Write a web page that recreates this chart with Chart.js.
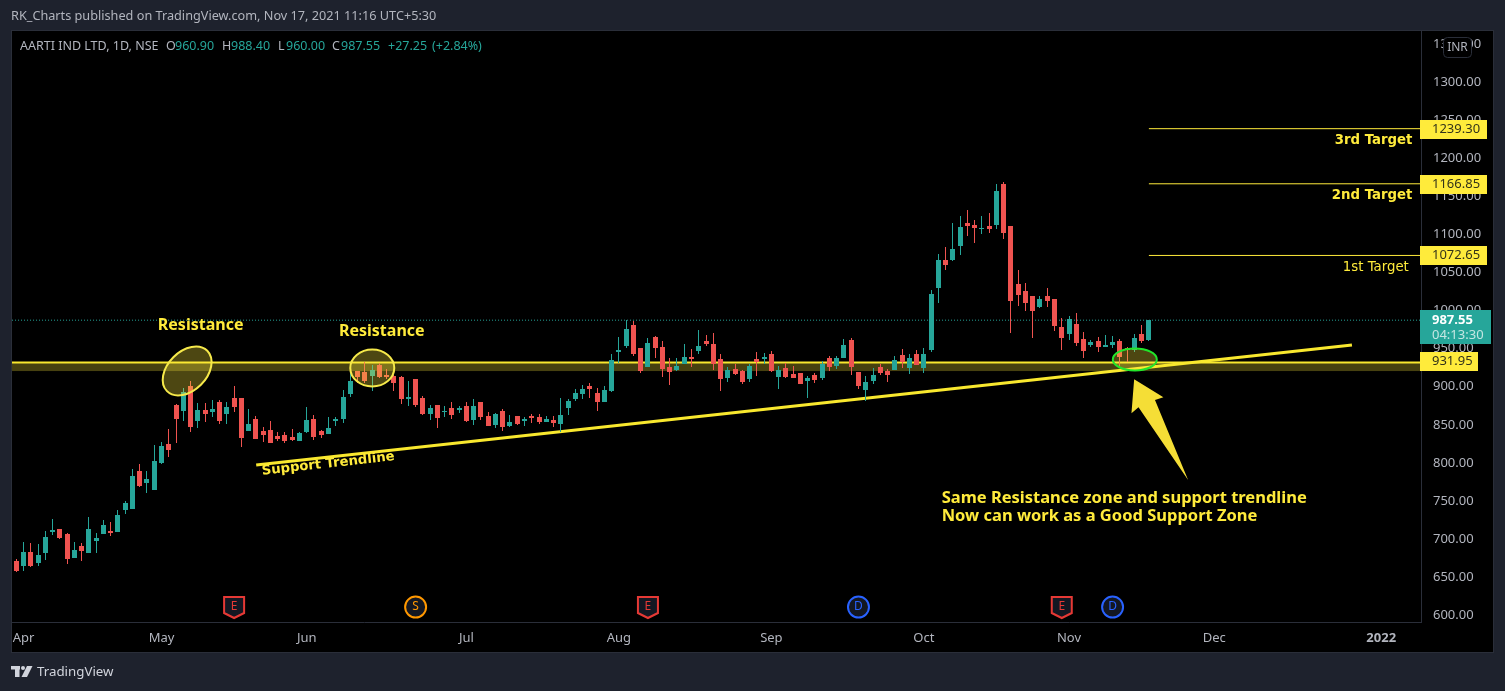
<!DOCTYPE html>
<html>
<head>
<meta charset="utf-8">
<title>AARTI IND LTD, 1D, NSE</title>
<script src="https://cdn.jsdelivr.net/npm/chart.js@4/dist/chart.umd.min.js"></script>
<style>
    html, body { margin: 0; padding: 0; background: #1e222d; overflow: hidden; }
    canvas { display: block; }
</style>
</head>
<body>
<canvas id="chart" width="1505" height="691"></canvas>
<script>
// Daily candles, one entry per session
const opens = [
    671, 664, 683, 668, 682, 709, 713, 707, 675, 691,
    682, 697, 707, 710, 709, 738, 739, 789, 774, 764,
    800, 825, 876, 868, 901, 855, 870, 867, 880, 864,
    885, 885, 842, 858, 842, 843, 835, 837, 834, 829,
    841, 858, 842, 838, 855, 858, 891, 921, 920, 914,
    929, 916, 914, 913, 884, 910, 885, 864, 876, 867,
    872, 870, 875, 856, 880, 862, 850, 868, 849, 862,
    855, 862, 860, 854, 856, 851, 872, 884, 891, 901,
    892, 880, 895, 946, 954, 981, 951, 926, 966, 952,
    926, 922, 930, 939, 947, 960, 956, 937, 912, 923,
    921, 910, 937, 937, 943, 913, 925, 917, 918, 908,
    916, 912, 938, 927, 938, 962, 919, 896, 908, 926,
    921, 922, 942, 925, 943, 925, 948, 1030, 1067, 1067,
    1085, 1115, 1113, 1107, 1111, 1113, 1167, 1111, 1035, 1026,
    1019, 1005, 1019, 1015, 979, 969, 983, 963, 955, 960,
    952, 955, 960, 951, 948, 969, 960.9
];
const highs = [
    674, 696, 695, 693, 710, 726, 713, 708, 696, 695,
    729, 708, 725, 722, 738, 750, 792, 798, 789, 824,
    827, 845, 877, 898, 908, 879, 879, 883, 883, 880,
    901, 885, 871, 862, 847, 855, 841, 841, 845, 841,
    874, 863, 843, 860, 860, 896, 926, 921, 933, 929,
    931, 923, 916, 914, 908, 910, 888, 876, 876, 875,
    880, 875, 880, 884, 880, 867, 866, 871, 863, 862,
    860, 864, 864, 862, 862, 885, 884, 897, 902, 905,
    899, 901, 943, 966, 988, 987, 951, 964, 967, 960,
    938, 938, 956, 950, 975, 968, 971, 943, 926, 930,
    922, 930, 946, 945, 947, 927, 931, 927, 918, 914,
    918, 934, 941, 941, 963, 964, 919, 914, 925, 930,
    923, 941, 950, 943, 948, 951, 1027, 1075, 1084, 1115,
    1125, 1132, 1119, 1125, 1129, 1167, 1169, 1111, 1054, 1036,
    1019, 1019, 1030, 1015, 990, 993, 997, 972, 962, 966,
    968, 967, 963, 952, 969, 981, 988.4
];
const lows = [
    656, 658, 663, 664, 672, 705, 700, 667, 675, 671,
    682, 682, 707, 704, 709, 733, 739, 768, 760, 764,
    798, 808, 826, 855, 841, 846, 854, 860, 851, 851,
    867, 821, 842, 831, 827, 826, 829, 826, 829, 829,
    839, 830, 833, 838, 849, 852, 887, 905, 905, 895,
    912, 910, 895, 877, 875, 874, 863, 856, 846, 860,
    858, 866, 854, 850, 856, 849, 846, 842, 847, 850,
    849, 852, 851, 854, 847, 841, 863, 881, 884, 885,
    868, 880, 893, 931, 951, 941, 918, 926, 938, 913,
    902, 921, 930, 926, 943, 954, 922, 895, 906, 916,
    904, 906, 914, 930, 920, 897, 912, 912, 904, 885,
    905, 909, 921, 923, 938, 916, 897, 881, 904, 916,
    906, 922, 925, 917, 929, 918, 946, 1010, 1054, 1065,
    1073, 1098, 1089, 1101, 1102, 1107, 1094, 971, 1006, 1000,
    964, 1004, 1005, 973, 948, 962, 954, 938, 952, 946,
    952, 951, 925, 933, 946, 958, 960
];
const closes = [
    658, 683, 664, 679, 703, 712, 701, 674, 685, 684,
    713, 701, 718, 708, 731, 747, 783, 770, 779, 802,
    822, 817, 858, 893, 847, 870, 864, 871, 855, 873,
    873, 833, 851, 831, 837, 826, 831, 829, 830, 839,
    856, 834, 837, 846, 858, 887, 908, 913, 908, 922,
    913, 913, 905, 884, 887, 876, 864, 872, 859, 868,
    863, 872, 855, 875, 860, 849, 864, 847, 854, 851,
    858, 859, 854, 858, 852, 863, 881, 892, 897, 897,
    880, 896, 935, 948, 976, 943, 921, 958, 951, 923,
    920, 927, 939, 937, 954, 956, 930, 910, 922, 917,
    906, 927, 933, 939, 921, 922, 913, 912, 904, 912,
    909, 930, 926, 938, 955, 926, 901, 906, 916, 918,
    916, 935, 933, 938, 929, 943, 1022, 1067, 1060, 1081,
    1110, 1111, 1109, 1109, 1107, 1157, 1102, 1013, 1021, 1010,
    1000, 1015, 1013, 980, 964, 989, 958, 947, 959, 952,
    955, 959, 939, 948, 964, 960, 987.55
];

// Axis labels
const priceTicks = [600, 650, 700, 750, 800, 850, 900, 950, 1000, 1050, 1100, 1150, 1200, 1250, 1300, 1350];
const monthLabels = ['Apr', 'May', 'Jun', 'Jul', 'Aug', 'Sep', 'Oct', 'Nov', 'Dec', '2022'];
const monthTicks = [1, 20, 40, 62, 83, 104, 125, 145, 165, 188];

// Drawn levels
const targetLevels = [1239.30, 1166.85, 1072.65];
const supportLevel = 931.95;
const zoneBottom = 920.5;
const lastPrice = 987.55;
const trendX = [33.04, 183.97];
const trendY = [797.2, 955];

// Events under the candles: session index and letter
const eventBars = [30, 55, 87, 116, 144, 151];
const eventKinds = ['E', 'S', 'E', 'D', 'E', 'D'];

const UP = '#26a69a';
const DOWN = '#ef5350';
const YELLOW = '#ffeb3b';
const FONT = '"Noto Sans", sans-serif';
const sessions = closes.map((_, i) => i);
const candleColors = closes.map((c, i) => (c >= opens[i] ? UP : DOWN));

function flatLine(value, from) {
    return [{ x: from, y: value }, { x: 194, y: value }];
}

function lineSet(data, color, width, order, extra) {
    return Object.assign({
        type: 'line', data: data, borderColor: color, borderWidth: width,
        pointRadius: 0, order: order, tension: 0, fill: false
    }, extra || {});
}

// Bars sit on whole pixels so wicks stay 1px sharp
const snapBars = {
    id: 'snapBars',
    afterDatasetsUpdate(chart) {
        chart.getSortedVisibleDatasetMetas().forEach(meta => {
            if (meta.type !== 'bar') return;
            meta.data.forEach(el => {
                el.x = Math.floor(el.x) + 0.5;
                el.y = Math.round(el.y);
                el.base = Math.round(el.base);
                if (el.y === el.base) el.base = el.y + 1;
            });
        });
    }
};

function writeText(ctx, text, x, y, font, color, align) {
    ctx.font = font;
    ctx.fillStyle = color;
    ctx.textAlign = align || 'left';
    ctx.textBaseline = 'middle';
    ctx.fillText(text, x, y);
}

function drawEllipse(ctx, chart, cx, cy, rx, ry, angle, stroke) {
    ctx.beginPath();
    ctx.ellipse(chart.scales.x.getPixelForValue(cx), chart.scales.y.getPixelForValue(cy), rx, ry, angle, 0, Math.PI * 2);
    ctx.fillStyle = 'rgba(255, 235, 59, 0.3)';
    ctx.fill();
    ctx.lineWidth = 2;
    ctx.strokeStyle = stroke;
    ctx.stroke();
}

function drawEvent(ctx, x, y, kind) {
    const color = { E: '#e53935', S: '#ff9800', D: '#2962ff' }[kind];
    ctx.beginPath();
    if (kind === 'E') {
        ctx.moveTo(x - 10, y - 10);
        ctx.lineTo(x + 10, y - 10);
        ctx.lineTo(x + 10, y + 6);
        ctx.lineTo(x, y + 11);
        ctx.lineTo(x - 10, y + 6);
        ctx.closePath();
    } else {
        ctx.arc(x, y, 10.5, 0, Math.PI * 2);
    }
    ctx.fillStyle = '#131722';
    ctx.fill();
    ctx.lineWidth = 2;
    ctx.strokeStyle = color;
    ctx.stroke();
    writeText(ctx, kind, x, y, '12px ' + FONT, color, 'center');
}

function drawLogo(ctx) {
    ctx.fillStyle = '#d1d4dc';
    ctx.fillRect(11, 666, 9, 3.5);
    ctx.fillRect(15, 666, 4.5, 11);
    ctx.beginPath();
    ctx.arc(23, 668, 2, 0, Math.PI * 2);
    ctx.fill();
    ctx.beginPath();
    ctx.moveTo(27, 666);
    ctx.lineTo(32.5, 666);
    ctx.lineTo(27, 677);
    ctx.lineTo(21.5, 677);
    ctx.closePath();
    ctx.fill();
}

const overlay = {
    id: 'overlay',
    beforeDraw(chart) {
        const ctx = chart.ctx;
        ctx.save();
        ctx.fillStyle = '#1e222d';
        ctx.fillRect(0, 0, 1505, 691);
        ctx.fillStyle = '#000000';
        ctx.fillRect(12, 31, 1481, 621);
        ctx.strokeStyle = '#2a2e39';
        ctx.lineWidth = 1;
        ctx.strokeRect(11.5, 30.5, 1482, 622);
        ctx.restore();
    },
    afterDatasetsDraw(chart) {
        const ctx = chart.ctx;
        const xs = chart.scales.x;
        const ys = chart.scales.y;
        ctx.save();

        drawEllipse(ctx, chart, 23.53, 920.8, 28.5, 19.5, -Math.PI / 4, '#f6e94a');
        drawEllipse(ctx, chart, 49.03, 924.7, 22, 18.5, 0, '#f6e94a');
        drawEllipse(ctx, chart, 154.06, 935.9, 22, 11, 0, '#22e52b');

        // Arrow pointing at the support zone
        const arrow = [[153.97, 909.8], [158.0, 886.2], [156.84, 882.6], [161.4, 777.5], [154.57, 873], [153.6, 865.2]];
        ctx.beginPath();
        arrow.forEach((p, i) => {
            const px = xs.getPixelForValue(p[0]);
            const py = ys.getPixelForValue(p[1]);
            if (i === 0) ctx.moveTo(px, py); else ctx.lineTo(px, py);
        });
        ctx.closePath();
        ctx.fillStyle = '#f5de36';
        ctx.fill();

        const noteFont = 'bold 16.5px ' + FONT;
        const notes = [
            ['Resistance', 25.39, 981.3, 'bold 16px ' + FONT, 'center'],
            ['Resistance', 50.34, 973.4, 'bold 16px ' + FONT, 'center'],
            ['Same Resistance zone and support trendline', 127.46, 752.8, noteFont, 'left'],
            ['Now can work as a Good Support Zone', 127.46, 730.1, noteFont, 'left'],
            ['3rd Target', 192.3, 1223.8, 'bold 13.3px "DejaVu Sans"', 'right'],
            ['2nd Target', 192.3, 1151, 'bold 13.3px "DejaVu Sans"', 'right'],
            ['1st Target', 191.8, 1057.3, '13.3px "DejaVu Sans"', 'right']
        ];
        notes.forEach(n => {
            writeText(ctx, n[0], xs.getPixelForValue(n[1]), ys.getPixelForValue(n[2]), n[3], YELLOW, n[4]);
        });

        // Label that follows the trendline
        ctx.save();
        ctx.translate(xs.getPixelForValue(42.96), ys.getPixelForValue(798.5));
        ctx.rotate(-0.11);
        writeText(ctx, 'Support Trendline', 0, 0, 'bold 13.2px "DejaVu Sans"', YELLOW, 'center');
        ctx.restore();

        eventBars.forEach((bar, i) => {
            drawEvent(ctx, xs.getPixelForValue(bar), ys.getPixelForValue(610.5), eventKinds[i]);
        });
        ctx.restore();
    },
    afterDraw(chart) {
        const ctx = chart.ctx;
        const ys = chart.scales.y;
        ctx.save();

        // Page header and symbol legend
        writeText(ctx, 'RK_Charts published on TradingView.com, Nov 17, 2021 11:16 UTC+5:30', 11, 16, '12.7px ' + FONT, '#b2b5be');
        const grey = '#b2b5be';
        [
            ['AARTI IND LTD, 1D, NSE', 20, grey], ['O', 166, grey], ['960.90', 175, UP],
            ['H', 222, grey], ['988.40', 231, UP], ['L', 278, grey], ['960.00', 286, UP],
            ['C', 332, grey], ['987.55', 341, UP], ['+27.25', 388, UP], ['(+2.84%)', 432, UP]
        ].forEach(s => writeText(ctx, s[0], s[1], 46, '12.5px ' + FONT, s[2]));

        // Price tags on the axis
        targetLevels.forEach(level => {
            const y = Math.round(ys.getPixelForValue(level));
            ctx.fillStyle = YELLOW;
            ctx.fillRect(1420, y - 9, 67, 19);
            writeText(ctx, level.toFixed(2), 1432, y + 0.5, '13px ' + FONT, '#33331a');
        });
        const supportY = Math.round(ys.getPixelForValue(supportLevel));
        ctx.fillStyle = YELLOW;
        ctx.fillRect(1420, supportY - 10, 58, 19);
        writeText(ctx, supportLevel.toFixed(2), 1432, supportY - 0.5, '13px ' + FONT, '#33331a');

        const lastY = Math.round(ys.getPixelForValue(lastPrice));
        ctx.fillStyle = UP;
        ctx.fillRect(1420, lastY - 10, 71, 34);
        writeText(ctx, lastPrice.toFixed(2), 1432, lastY, 'bold 13px ' + FONT, '#ffffff');
        writeText(ctx, '04:13:30', 1432, lastY + 15, '13px ' + FONT, '#c4e6e2');

        // Currency badge covers the top tick, same as the reference
        ctx.beginPath();
        ctx.roundRect(1443.5, 37.5, 28, 20, 4);
        ctx.fillStyle = '#000000';
        ctx.fill();
        ctx.strokeStyle = '#2a2e39';
        ctx.lineWidth = 1;
        ctx.stroke();
        writeText(ctx, 'INR', 1457.5, 48, '12px ' + FONT, '#b2b5be', 'center');

        drawLogo(ctx);
        writeText(ctx, 'TradingView', 37, 672, '13.3px ' + FONT, '#d1d4dc');
        ctx.restore();
    }
};

const chart = new Chart(document.getElementById('chart').getContext('2d'), {
    type: 'bar',
    data: {
        datasets: [
            {
                data: sessions.map(i => ({ x: i, y: [opens[i], closes[i]] })),
                backgroundColor: candleColors, barThickness: 5, minBarLength: 1,
                grouped: false, inflateAmount: 0, order: 1
            },
            {
                data: sessions.map(i => ({ x: i, y: [lows[i], highs[i]] })),
                backgroundColor: candleColors, barThickness: 1, minBarLength: 1,
                grouped: false, inflateAmount: 0, order: 2
            },
            lineSet(trendX.map((x, i) => ({ x: x, y: trendY[i] })), '#f9e82e', 3, 3),
            lineSet(flatLine(supportLevel, -1), '#f9e82e', 2, 4, {
                fill: { target: { value: zoneBottom }, above: 'rgba(255, 235, 59, 0.28)' }
            }),
            lineSet(flatLine(targetLevels[0], 156), YELLOW, 1, 5),
            lineSet(flatLine(targetLevels[1], 156), YELLOW, 1, 5),
            lineSet(flatLine(targetLevels[2], 156), YELLOW, 1, 5),
            lineSet(flatLine(lastPrice, -1), UP, 1, 6, { borderDash: [1, 2] })
        ]
    },
    options: {
        responsive: false,
        animation: false,
        events: [],
        layout: { padding: { left: 12, top: 31, right: 11, bottom: 39 } },
        plugins: { legend: { display: false }, tooltip: { enabled: false } },
        scales: {
            x: {
                type: 'linear',
                offset: false,
                min: -0.593,
                max: 193.48,
                grid: { display: false, drawTicks: false },
                border: { display: true, color: '#2a2e39' },
                afterBuildTicks: scale => { scale.ticks = monthTicks.map(v => ({ value: v })); },
                afterFit: scale => { scale.height = 30; },
                ticks: {
                    autoSkip: false,
                    maxRotation: 0,
                    padding: 8,
                    color: '#b2b5be',
                    font: ctx => ({ family: FONT, size: 13, weight: ctx.tick && ctx.tick.value === 188 ? 'bold' : 'normal' }),
                    callback: value => monthLabels[monthTicks.indexOf(value)]
                }
            },
            y: {
                position: 'right',
                min: 590.8,
                max: 1367.7,
                grid: { display: false, drawTicks: false },
                border: { display: true, color: '#2a2e39' },
                afterBuildTicks: scale => { scale.ticks = priceTicks.map(v => ({ value: v })); },
                afterFit: scale => { scale.width = 73; },
                ticks: {
                    autoSkip: false,
                    padding: 12,
                    color: '#b2b5be',
                    font: { family: FONT, size: 13 },
                    callback: value => value.toFixed(2)
                }
            }
        }
    },
    plugins: [snapBars, overlay]
});
</script>
</body>
</html>
